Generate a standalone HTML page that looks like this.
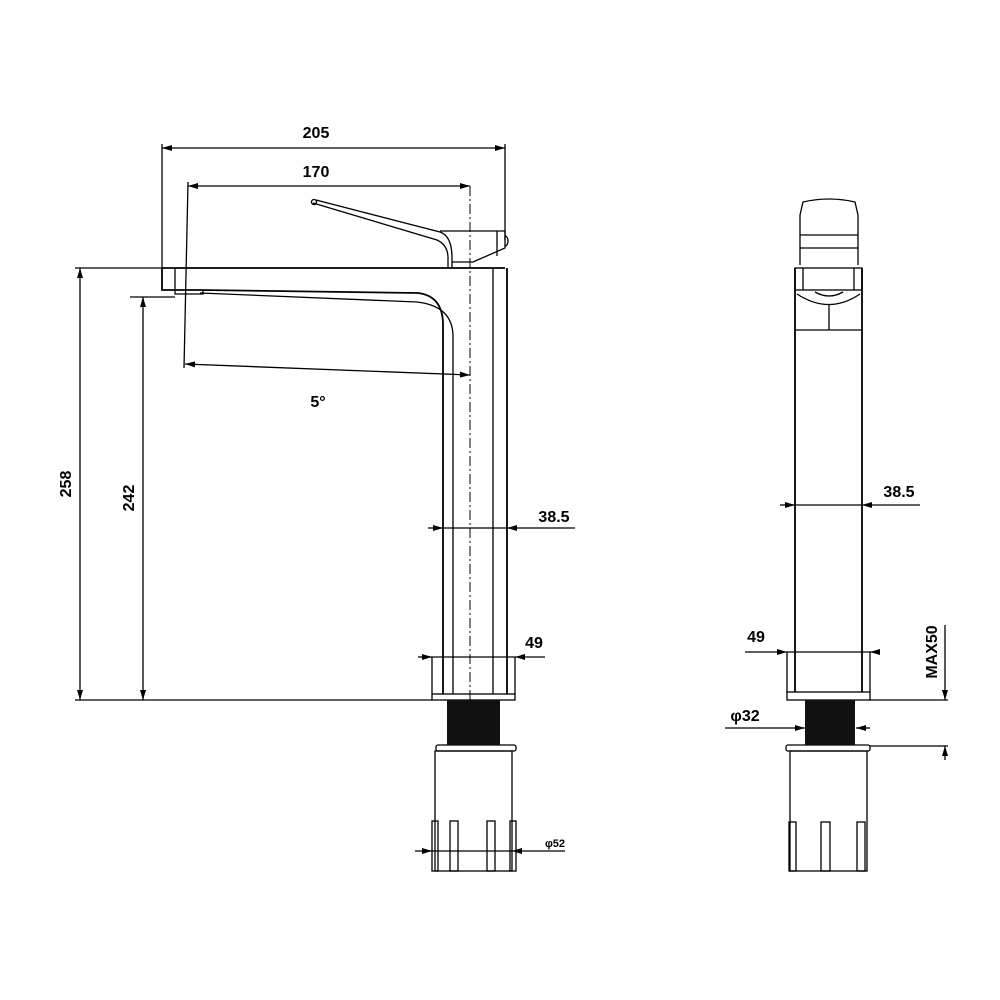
<!DOCTYPE html>
<html><head><meta charset="utf-8"><style>html,body{margin:0;background:#fff}svg{display:block}</style></head><body>
<svg width="1000" height="1000" viewBox="0 0 1000 1000" xmlns="http://www.w3.org/2000/svg" font-family="Liberation Sans, sans-serif">
<defs>
<marker id="a" viewBox="0 0 10 6" refX="10" refY="3" markerWidth="10" markerHeight="6" orient="auto-start-reverse" markerUnits="userSpaceOnUse"><path d="M0,0L10,3L0,6z" fill="#000"/></marker>
</defs>
<g fill="none" stroke="#000" stroke-width="1.3">
<!-- left view dims -->
<line x1="162" y1="148" x2="505" y2="148" marker-start="url(#a)" marker-end="url(#a)"/>
<line x1="162" y1="144" x2="162" y2="268"/><line x1="505" y1="144" x2="505" y2="240"/>
<line x1="188" y1="186" x2="470" y2="186" marker-start="url(#a)" marker-end="url(#a)"/>
<line x1="188" y1="182" x2="184" y2="368"/>
<line x1="470" y1="186" x2="470" y2="700" stroke-dasharray="10,3,2,3" stroke-width="1"/>
<line x1="185" y1="364" x2="470" y2="375" marker-start="url(#a)" marker-end="url(#a)"/>
<line x1="80" y1="268" x2="80" y2="700" marker-start="url(#a)" marker-end="url(#a)"/>
<line x1="75" y1="268" x2="162" y2="268"/><line x1="75" y1="700" x2="432" y2="700"/>
<line x1="143" y1="297" x2="143" y2="700" marker-start="url(#a)" marker-end="url(#a)"/>
<line x1="130" y1="297" x2="175" y2="297"/>
<line x1="428" y1="528" x2="443" y2="528" marker-end="url(#a)"/>
<line x1="443" y1="528" x2="507" y2="528"/>
<line x1="575" y1="528" x2="507" y2="528" marker-end="url(#a)"/>
<line x1="418" y1="657" x2="432" y2="657" marker-end="url(#a)"/>
<line x1="432" y1="657" x2="515" y2="657"/>
<line x1="545" y1="657" x2="515" y2="657" marker-end="url(#a)"/>
<line x1="432" y1="657" x2="432" y2="694"/><line x1="515" y1="657" x2="515" y2="694"/>
<line x1="415" y1="851" x2="432" y2="851" marker-end="url(#a)"/>
<line x1="432" y1="851" x2="512" y2="851"/>
<line x1="565" y1="851" x2="512" y2="851" marker-end="url(#a)"/>
<!-- spout/body -->
<line x1="162" y1="268" x2="505" y2="268" stroke-width="1.8"/>
<path d="M162,268 V290 H200 L418,293 Q443,296 443,325 V694" stroke-width="1.8"/>
<path d="M175,268 V289"/>
<path d="M200,293 L417,302 Q452,306 453,335 V694"/>
<path d="M175,290 v4 h28 v-4"/>
<path d="M507,268 V694" stroke-width="1.8"/><path d="M493,268 V694"/>
<!-- lever -->
<path d="M313,203 L437,240 Q448,245 448,258 V268"/>
<path d="M316,200 L440,232 Q452,236 452,258 V268"/>
<circle cx="314" cy="202" r="2.5"/>
<path d="M440,231 H505 V248 L473,262 H452"/>
<line x1="497" y1="231" x2="497" y2="256"/>
<path d="M505,236 a3,5 0 0 1 0,10"/>
<!-- base -->
<rect x="432" y="694" width="83" height="6"/>
<rect x="436" y="745" width="80" height="6" rx="2"/>
<rect x="435" y="751" width="77" height="120"/>
<rect x="432" y="821" width="6" height="50"/><rect x="450" y="821" width="8" height="50"/>
<rect x="487" y="821" width="8" height="50"/><rect x="510" y="821" width="6" height="50"/>
<!-- right view -->
<path d="M800,265 V215 L803,202 Q829,196 855,202 L858,215 V265"/>
<line x1="800" y1="235" x2="858" y2="235"/><line x1="800" y1="248" x2="858" y2="248"/>
<rect x="795" y="268" width="67" height="22"/>
<line x1="803" y1="268" x2="803" y2="290"/><line x1="854" y1="268" x2="854" y2="290"/>
<path d="M797,294 Q829,315 860,294"/>
<path d="M815,292 Q829,300 843,292"/>
<line x1="829" y1="304" x2="829" y2="330"/><line x1="795" y1="330" x2="862" y2="330"/>
<path d="M795,268 V692" stroke-width="1.8"/><path d="M862,268 V692" stroke-width="1.8"/>
<line x1="780" y1="505" x2="795" y2="505" marker-end="url(#a)"/>
<line x1="795" y1="505" x2="862" y2="505"/>
<line x1="920" y1="505" x2="862" y2="505" marker-end="url(#a)"/>
<line x1="745" y1="652" x2="787" y2="652" marker-end="url(#a)"/>
<line x1="787" y1="652" x2="870" y2="652"/>
<line x1="880" y1="652" x2="870" y2="652" marker-end="url(#a)"/>
<line x1="787" y1="652" x2="787" y2="692"/><line x1="870" y1="652" x2="870" y2="692"/>
<rect x="787" y="692" width="83" height="8"/>
<rect x="786" y="745" width="84" height="6" rx="2"/>
<rect x="790" y="751" width="77" height="120"/>
<rect x="789" y="822" width="7" height="49"/><rect x="821" y="822" width="9" height="49"/><rect x="857" y="822" width="8" height="49"/>
<line x1="725" y1="728" x2="805" y2="728" marker-end="url(#a)"/>
<line x1="870" y1="728" x2="856" y2="728" marker-end="url(#a)"/>
<line x1="870" y1="700" x2="948" y2="700"/><line x1="870" y1="746" x2="948" y2="746"/>
<line x1="945" y1="625" x2="945" y2="700" marker-end="url(#a)"/>
<line x1="945" y1="760" x2="945" y2="746" marker-end="url(#a)"/>
</g>
<rect x="447" y="700" width="53" height="45" fill="#111"/>
<rect x="805" y="700" width="50" height="45" fill="#111"/>
<g font-size="16" font-weight="bold" fill="#000" text-anchor="middle">
<text x="316" y="138">205</text>
<text x="316" y="177">170</text>
<text x="318" y="407">5°</text>
<text x="554" y="522">38.5</text>
<text x="534" y="648">49</text>
<text x="555" y="847" font-size="11">φ52</text>
<text x="899" y="497">38.5</text>
<text x="756" y="642">49</text>
<text x="745" y="721">φ32</text>
<text transform="translate(71,484) rotate(-90)">258</text>
<text transform="translate(134,498) rotate(-90)">242</text>
<text transform="translate(937,652) rotate(-90)">MAX50</text>
</g>
</svg>
</body></html>
